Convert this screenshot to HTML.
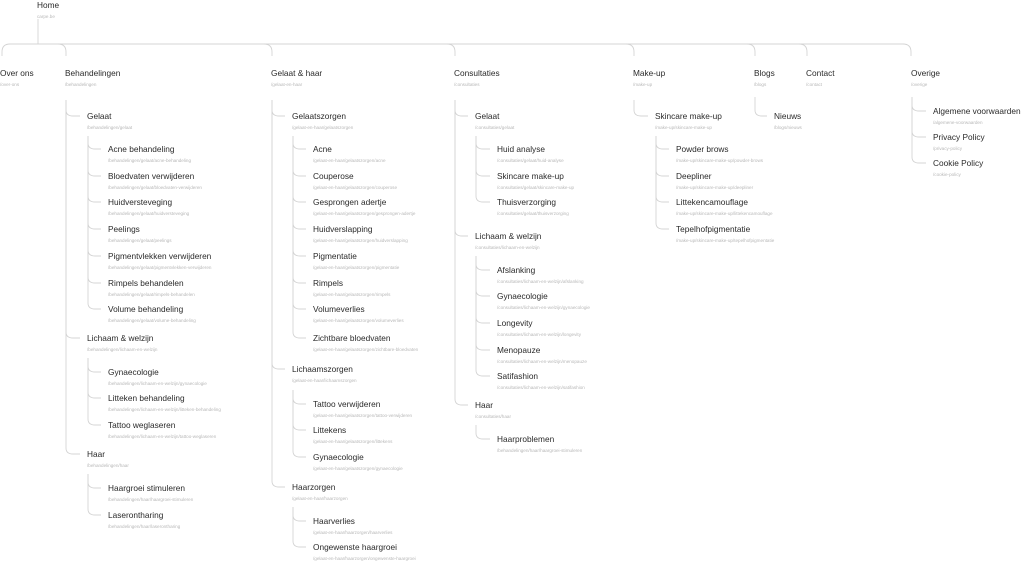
<!DOCTYPE html>
<html><head><meta charset="utf-8"><style>
html,body{margin:0;padding:0;background:#fff;width:1024px;height:561px;overflow:hidden}
svg{display:block}
.t{font-family:"Liberation Sans",sans-serif;font-size:8.3px;fill:#2a2a2a}
.u{font-family:"Liberation Sans",sans-serif;font-size:4.6px;fill:#b8b8b8}
path{fill:none;stroke:#d4d4d4;stroke-width:0.9}
</style></head><body>
<svg id="s" width="1024" height="561" viewBox="0 0 1024 561" xmlns="http://www.w3.org/2000/svg"></svg>
<script>
var S=document.getElementById('s'),out='';
function node(x,c,t,u){out+='<text class="t" x="'+x+'" y="'+(c+3)+'">'+t.replace(/&/g,'&amp;')+'</text><text class="u" x="'+x+'" y="'+(c+13)+'">'+u+'</text>';}
function kids(px,start,arr){arr.forEach(function(k){var lx=px+1,cx=k[0],cy=k[1];
out+='<path d="M'+lx+','+start+' V'+(cy-6)+' Q'+lx+','+cy+' '+(lx+7)+','+cy+' H'+(cx-7)+'"/>';node(cx,cy,k[2],k[3]);});}
node(37,5,'Home','carpe.be');
out+='<path d="M38,19 V44"/>';
var cols=[[0,'Over ons','/over-ons'],[65,'Behandelingen','/behandelingen'],[271,'Gelaat & haar','/gelaat-en-haar'],[454,'Consultaties','/consultaties'],[633,'Make-up','/make-up'],[754,'Blogs','/blogs'],[806,'Contact','/contact'],[911,'Overige','/overige']];
out+='<path d="M2,56 V52 Q2,44 10,44 H903 Q911,44 911,52 V56"/>';
cols.forEach(function(c,i){node(c[0],73,c[1],c[2]);if(i>0&&i<7){var x=c[0]+1;out+='<path d="M'+(x-8)+',44 Q'+x+',44 '+x+',52 V56"/>';}});
kids(65,100,[[87,116,'Gelaat','/behandelingen/gelaat'],[87,338,'Lichaam & welzijn','/behandelingen/lichaam-en-welzijn'],[87,454,'Haar','/behandelingen/haar']]);
kids(87,136,[[108,149,'Acne behandeling','/behandelingen/gelaat/acne-behandeling'],[108,176,'Bloedvaten verwijderen','/behandelingen/gelaat/bloedvaten-verwijderen'],[108,202,'Huidversteveging','/behandelingen/gelaat/huidversteveging'],[108,229,'Peelings','/behandelingen/gelaat/peelings'],[108,256,'Pigmentvlekken verwijderen','/behandelingen/gelaat/pigmentvlekken-verwijderen'],[108,283,'Rimpels behandelen','/behandelingen/gelaat/rimpels-behandelen'],[108,309,'Volume behandeling','/behandelingen/gelaat/volume-behandeling']]);
kids(87,358,[[108,372,'Gynaecologie','/behandelingen/lichaam-en-welzijn/gynaecologie'],[108,398,'Litteken behandeling','/behandelingen/lichaam-en-welzijn/litteken-behandeling'],[108,425,'Tattoo weglaseren','/behandelingen/lichaam-en-welzijn/tattoo-weglaseren']]);
kids(87,474,[[108,488,'Haargroei stimuleren','/behandelingen/haar/haargroei-stimuleren'],[108,515,'Laserontharing','/behandelingen/haar/laserontharing']]);
kids(271,100,[[292,116,'Gelaatszorgen','/gelaat-en-haar/gelaatszorgen'],[292,369,'Lichaamszorgen','/gelaat-en-haar/lichaamszorgen'],[292,487,'Haarzorgen','/gelaat-en-haar/haarzorgen']]);
var g='/gelaat-en-haar/gelaatszorgen/';
kids(292,136,[[313,149,'Acne',g+'acne'],[313,176,'Couperose',g+'couperose'],[313,202,'Gesprongen adertje',g+'gesprongen-adertje'],[313,229,'Huidverslapping',g+'huidverslapping'],[313,256,'Pigmentatie',g+'pigmentatie'],[313,283,'Rimpels',g+'rimpels'],[313,309,'Volumeverlies',g+'volumeverlies'],[313,338,'Zichtbare bloedvaten',g+'zichtbare-bloedvaten']]);
kids(292,390,[[313,404,'Tattoo verwijderen',g+'tattoo-verwijderen'],[313,430,'Littekens',g+'littekens'],[313,457,'Gynaecologie',g+'gynaecologie']]);
kids(292,507,[[313,521,'Haarverlies','/gelaat-en-haar/haarzorgen/haarverlies'],[313,547,'Ongewenste haargroei','/gelaat-en-haar/haarzorgen/ongewenste-haargroei']]);
kids(454,100,[[475,116,'Gelaat','/consultaties/gelaat'],[475,236,'Lichaam & welzijn','/consultaties/lichaam-en-welzijn'],[475,405,'Haar','/consultaties/haar']]);
kids(475,136,[[497,149,'Huid analyse','/consultaties/gelaat/huid-analyse'],[497,176,'Skincare make-up','/consultaties/gelaat/skincare-make-up'],[497,202,'Thuisverzorging','/consultaties/gelaat/thuisverzorging']]);
var l='/consultaties/lichaam-en-welzijn/';
kids(475,256,[[497,270,'Afslanking',l+'afslanking'],[497,296,'Gynaecologie',l+'gynaecologie'],[497,323,'Longevity',l+'longevity'],[497,350,'Menopauze',l+'menopauze'],[497,376,'Satifashion',l+'satifashion']]);
kids(475,425,[[497,439,'Haarproblemen','/behandelingen/haar/haargroei-stimuleren']]);
kids(633,100,[[655,116,'Skincare make-up','/make-up/skincare-make-up']]);
var m='/make-up/skincare-make-up/';
kids(655,136,[[676,149,'Powder brows',m+'powder-brows'],[676,176,'Deepliner',m+'deepliner'],[676,202,'Littekencamouflage',m+'littekencamouflage'],[676,229,'Tepelhofpigmentatie',m+'tepelhofpigmentatie']]);
kids(754,97,[[774,116,'Nieuws','/blogs/nieuws']]);
kids(911,97,[[933,111,'Algemene voorwaarden','/algemene-voorwaarden'],[933,137,'Privacy Policy','/privacy-policy'],[933,163,'Cookie Policy','/cookie-policy']]);
S.innerHTML=out;
</script>
</body></html>
